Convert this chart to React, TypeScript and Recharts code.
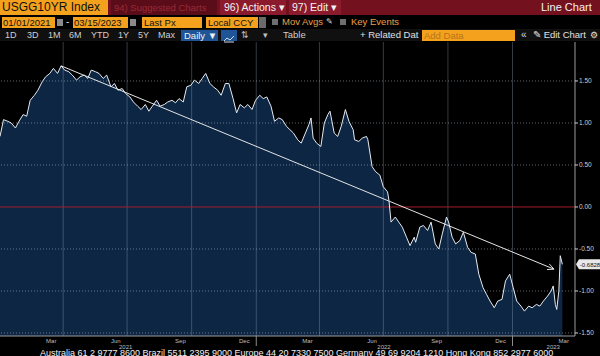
import React from 'react'
import {
  ComposedChart, Area, Line, XAxis, YAxis, ReferenceLine,
} from 'recharts'

// days since 01/01/2021, and the index level
const days = [
  0, 5, 11, 16, 22, 27, 33, 38, 43, 49,
  54, 60, 65, 71, 76, 82, 87, 92, 98, 103,
  109, 114, 120, 125, 130, 136, 141, 147, 152, 158,
  163, 168, 174, 179, 185, 190, 196, 201, 207, 212,
  217, 223, 228, 234, 239, 245, 250, 255, 261, 266,
  272, 277, 283, 288, 293, 299, 304, 310, 315, 321,
  326, 332, 337, 342, 348, 353, 359, 364, 370, 375,
  380, 386, 391, 397, 402, 408, 413, 418, 424, 429,
  435, 440, 443, 446, 451, 457, 462, 467, 470, 476,
  481, 486, 492, 497, 503, 505, 511, 516, 522, 524,
  530, 535, 541, 546, 552, 554, 557, 563, 568, 573,
  579, 584, 590, 592, 598, 603, 609, 614, 620, 625,
  630, 636, 639, 644, 649, 655, 660, 666, 671, 677,
  682, 688, 693, 698, 704, 709, 715, 720, 726, 731,
  736, 742, 747, 753, 758, 764, 769, 774, 780, 785,
  788, 791, 793, 796, 798, 801,
]
const values = [
  0.84, 1.04, 1.02, 1.0, 0.94, 1.02, 1.1, 1.08, 1.27, 1.33,
  1.39, 1.49, 1.55, 1.59, 1.65, 1.59, 1.68, 1.63, 1.61, 1.57,
  1.51, 1.55, 1.57, 1.53, 1.63, 1.61, 1.59, 1.53, 1.57, 1.43,
  1.47, 1.39, 1.41, 1.35, 1.31, 1.25, 1.2, 1.16, 1.22, 1.14,
  1.2, 1.27, 1.2, 1.22, 1.25, 1.27, 1.24, 1.29, 1.25, 1.43,
  1.45, 1.51, 1.47, 1.53, 1.59, 1.47, 1.43, 1.39, 1.33, 1.47,
  1.47, 1.29, 1.12, 1.22, 1.18, 1.22, 1.16, 1.27, 1.33, 1.29,
  1.31, 1.2, 1.02, 1.06, 1.04, 0.96, 0.92, 0.88, 0.8, 0.76,
  0.88, 0.98, 1.06, 0.82, 0.76, 0.72, 1.0, 1.1, 1.14, 0.88,
  0.84, 0.96, 1.16, 1.02, 0.92, 0.8, 0.78, 0.82, 0.84, 0.8,
  0.48, 0.42, 0.38, 0.24, 0.18, 0.08, -0.18, -0.12, -0.18, -0.24,
  -0.36, -0.46, -0.36, -0.42, -0.24, -0.22, -0.28, -0.18, -0.44, -0.5,
  -0.32, -0.12, -0.18, -0.36, -0.44, -0.4, -0.3, -0.48, -0.54, -0.56,
  -0.8, -0.96, -1.04, -1.12, -1.2, -1.12, -1.1, -0.88, -0.8, -0.96,
  -1.12, -1.18, -1.24, -1.18, -1.2, -1.16, -1.18, -1.12, -1.06, -1.0,
  -0.94, -1.16, -1.22, -1.0, -0.58, -0.6828,
]
const lastValue = -0.6828

const trendStart = { day: 87, value: 1.68 }
const trendEnd = { day: 789, value: -0.74 }

const yTicks = [-1.5, -1, -0.5, 0, 0.5, 1, 1.5]
const monthTicks = [73, 165, 257, 348, 438, 530, 622, 713, 803]
const monthLabels = ['Mar', 'Jun', 'Sep', 'Dec', 'Mar', 'Jun', 'Sep', 'Dec', 'Mar']
const yearTicks = [179, 547, 788]
const yearLabels = ['2021', '2022', '2023']
const yearBreaks = [365, 730]
const quarterLines = [90, 181, 273, 365, 455, 546, 638, 730]

const data = days.map((d, i) => ({ day: d, px: values[i] }))
const allXTicks = [...monthTicks, ...yearTicks, ...yearBreaks].sort((a, b) => a - b)

const Y_DOMAIN: [number, number] = [-1.536, 1.964]
const X_DOMAIN: [number, number] = [0, 819]
const FONT = "'Liberation Sans', Arial, sans-serif"

function DateTick(props: any) {
  const { x, y, payload } = props
  const v = payload.value
  const mi = monthTicks.indexOf(v)
  if (mi >= 0) {
    return <text x={x} y={y + 7} textAnchor="middle" fill="#bfbfbf" fontSize={6} fontFamily={FONT}>{monthLabels[mi]}</text>
  }
  const yi = yearTicks.indexOf(v)
  if (yi >= 0) {
    return <text x={x} y={y + 12.5} textAnchor="middle" fill="#bfbfbf" fontSize={6} fontFamily={FONT}>{yearLabels[yi]}</text>
  }
  return <line x1={x} x2={x} y1={y} y2={y + 10} stroke="#8c8c8c" />
}

function TrendArrow(props: any) {
  const { x1, y1, x2, y2 } = props
  const a = Math.atan2(y2 - y1, x2 - x1)
  const h = 7
  const l = [x2 - h * Math.cos(a - 0.45), y2 - h * Math.sin(a - 0.45)]
  const r = [x2 - h * Math.cos(a + 0.45), y2 - h * Math.sin(a + 0.45)]
  return (
    <g>
      <line x1={x1} y1={y1} x2={x2} y2={y2} stroke="#e4e4e4" strokeWidth={1} />
      <polyline points={`${l[0]},${l[1]} ${x2},${y2} ${r[0]},${r[1]}`} fill="none" stroke="#e4e4e4" strokeWidth={1} />
    </g>
  )
}

function ValueTag(props: any) {
  const vb = props.viewBox || {}
  const x = vb.x + vb.width + 1
  const y = vb.y
  return (
    <g>
      <path d={`M${x},${y} L${x + 3},${y - 5} L${x + 25},${y - 5} L${x + 25},${y + 5} L${x + 3},${y + 5} Z`} fill="#e8e8e8" />
      <text x={x + 14} y={y + 2.3} textAnchor="middle" fontSize={6} fill="#111" fontFamily={FONT}>{lastValue.toFixed(4)}</text>
    </g>
  )
}

const box = (left: number, top: number, width: number, height: number, bg: string): React.CSSProperties => ({
  position: 'absolute', left, top, width, height, background: bg,
})

const txt = (left: number, top: number, color: string, size: number): React.CSSProperties => ({
  position: 'absolute', left, top, color, fontSize: size, lineHeight: '12px', whiteSpace: 'nowrap',
})

function Toolbar() {
  const orange = '#f4a11e'
  return (
    <div style={{ position: 'absolute', left: 0, top: 0, width: 600, height: 42, fontFamily: FONT }}>
      {/* row 1 */}
      <div style={box(0, 0, 600, 15, '#74111f')} />
      <div style={{ ...box(0, 0, 108, 15, orange), color: '#111', fontSize: 12, lineHeight: '15px', paddingLeft: 2, boxSizing: 'border-box' }}>USGG10YR Index</div>
      <div style={{ ...box(111, 0, 106, 15, '#5a0d18'), color: '#9b2a38', fontSize: 9.5, lineHeight: '15px', paddingLeft: 3, boxSizing: 'border-box', whiteSpace: 'nowrap' }}>94) Suggested Charts</div>
      <div style={{ ...box(220, 0, 66, 15, '#8a1a2c'), color: '#f2f2f2', fontSize: 10.5, lineHeight: '15px', paddingLeft: 4, boxSizing: 'border-box' }}>96) Actions ▾</div>
      <div style={{ ...box(289, 0, 52, 15, '#8a1a2c'), color: '#f2f2f2', fontSize: 10.5, lineHeight: '15px', paddingLeft: 3, boxSizing: 'border-box' }}>97) Edit ▾</div>
      <div style={{ ...txt(541, 1, '#f2f2f2', 11), lineHeight: '13px' }}>Line Chart</div>

      {/* row 2 */}
      <div style={{ ...box(2, 17, 53, 11, orange), color: '#111', fontSize: 9.5, lineHeight: '11px', paddingLeft: 1, boxSizing: 'border-box', whiteSpace: 'nowrap' }}>01/01/2021</div>
      <div style={box(57, 19, 6, 7, '#8a8a8a')} />
      <div style={txt(66, 16, '#ddd', 10)}>-</div>
      <div style={{ ...box(73, 17, 55, 11, orange), color: '#111', fontSize: 9.5, lineHeight: '11px', paddingLeft: 1, boxSizing: 'border-box', whiteSpace: 'nowrap' }}>03/15/2023</div>
      <div style={box(130, 19, 6, 7, '#8a8a8a')} />
      <div style={{ ...box(142, 17, 60, 11, orange), color: '#111', fontSize: 9.5, lineHeight: '11px', paddingLeft: 2, boxSizing: 'border-box' }}>Last Px</div>
      <div style={{ ...box(206, 17, 52, 11, orange), color: '#111', fontSize: 9.5, lineHeight: '11px', paddingLeft: 2, boxSizing: 'border-box', whiteSpace: 'nowrap' }}>Local CCY</div>
      <div style={box(259, 17, 7, 11, '#6a6a6a')} />
      <div style={box(272, 19, 6, 6, '#6e6e6e')} />
      <div style={txt(282, 16, '#e8a04a', 9.5)}>Mov Avgs</div>
      <div style={txt(326, 16, '#d8d8d8', 8)}>✎</div>
      <div style={box(340, 19, 6, 6, '#6e6e6e')} />
      <div style={txt(351, 16, '#e8a04a', 9.5)}>Key Events</div>

      {/* row 3 */}
      <div style={box(0, 29, 600, 12, '#101010')} />
      {[['1D', 5], ['3D', 27], ['1M', 48], ['6M', 69], ['YTD', 91], ['1Y', 118], ['5Y', 138], ['Max', 158]].map(([t, l]) => (
        <div key={t as string} style={txt(l as number, 29, '#cfcfcf', 9)}>{t}</div>
      ))}
      <div style={{ ...box(181, 30, 37, 11, '#1f5596'), color: '#f0f0f0', fontSize: 9.5, lineHeight: '11px', paddingLeft: 3, boxSizing: 'border-box' }}>Daily ▼</div>
      <div style={box(221, 30, 16, 11, '#1f5596')}>
        <svg width={16} height={11}><polyline points="3,8 6,5 9,7 13,3" fill="none" stroke="#cfe0f5" strokeWidth={1} /><line x1={3} y1={9} x2={13} y2={9} stroke="#cfe0f5" /></svg>
      </div>
      <div style={txt(241, 29, '#bfbfbf', 9)}>⇅</div>
      <div style={txt(263, 29, '#bfbfbf', 9)}>▾</div>
      <div style={txt(283, 29, '#cfcfcf', 9.5)}>Table</div>
      <div style={txt(360, 29, '#e0e0e0', 9.5)}>+ Related Dat</div>
      <div style={{ ...box(422, 30, 93, 11, orange), color: '#b4761a', fontSize: 9.5, lineHeight: '11px', paddingLeft: 2, boxSizing: 'border-box' }}>Add Data</div>
      <div style={txt(521, 29, '#d8d8d8', 10)}>«</div>
      <div style={txt(533, 29, '#e0e0e0', 9.5)}>✎ Edit Chart</div>
      <div style={txt(590, 29, '#e0e0e0', 9)}>⚙</div>
    </div>
  )
}

export default function App() {
  const gridStroke = 'rgba(150,170,195,0.35)'
  return (
    <div style={{ position: 'relative', width: 600, height: 356, background: '#000', overflow: 'hidden' }}>
      <style>{'body{margin:0;background:#000}'}</style>
      <Toolbar />
      <div style={{ position: 'absolute', left: 0, top: 42 }}>
        <ComposedChart width={600} height={314} data={data} margin={{ top: 0, right: 0, bottom: 0, left: 0 }}>
          <XAxis
            dataKey="day"
            type="number"
            domain={X_DOMAIN}
            ticks={allXTicks}
            interval={0}
            tick={<DateTick />}
            tickLine={false}
            tickSize={0}
            tickMargin={0}
            axisLine={{ stroke: '#9a9a9a' }}
            height={20}
            allowDataOverflow
          />
          <YAxis
            orientation="right"
            type="number"
            domain={Y_DOMAIN}
            ticks={yTicks}
            interval={0}
            width={25}
            tickSize={3}
            tickMargin={1}
            tickFormatter={(v: number) => v.toFixed(2)}
            tick={{ fill: '#cfcfcf', fontSize: 6.5, fontFamily: FONT }}
            tickLine={{ stroke: '#cfcfcf' }}
            axisLine={{ stroke: '#9a9a9a' }}
            allowDataOverflow
          />
          <Area
            type="linear"
            dataKey="px"
            stroke="none"
            fill="#0d2644"
            fillOpacity={1}
            baseValue={Y_DOMAIN[0]}
            isAnimationActive={false}
            dot={false}
            activeDot={false}
          />
          {quarterLines.map(d => (
            <ReferenceLine key={`q${d}`} x={d} stroke={gridStroke} strokeWidth={1} />
          ))}
          {yTicks.filter(t => t !== 0).map(t => (
            <ReferenceLine key={`h${t}`} y={t} stroke="rgba(170,180,195,0.55)" strokeDasharray="1 2" />
          ))}
          <ReferenceLine y={0} stroke="#a51d2d" strokeWidth={1} />
          <ReferenceLine
            segment={[{ x: trendStart.day, y: trendStart.value }, { x: trendEnd.day, y: trendEnd.value }]}
            shape={<TrendArrow />}
          />
          <Line
            type="linear"
            dataKey="px"
            stroke="#e6ebf1"
            strokeWidth={1}
            dot={false}
            activeDot={false}
            isAnimationActive={false}
          />
          <ReferenceLine y={lastValue} stroke="none" label={<ValueTag />} ifOverflow="visible" />
        </ComposedChart>
      </div>
      <div style={{ position: 'absolute', left: 40, top: 347, color: '#f0f0f0', fontSize: 9, fontFamily: FONT, whiteSpace: 'nowrap', lineHeight: '12px' }}>
        Australia 61 2 9777 8600 Brazil 5511 2395 9000 Europe 44 20 7330 7500 Germany 49 69 9204 1210 Hong Kong 852 2977 6000
      </div>
    </div>
  )
}
